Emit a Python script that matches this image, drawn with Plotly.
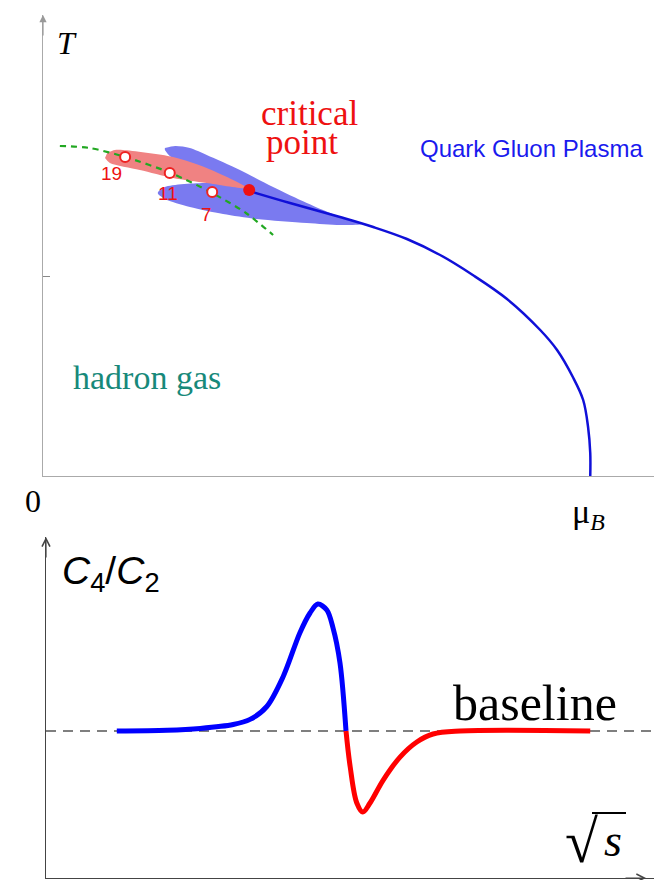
import plotly.graph_objects as go

W, H = 654, 880

# ---------------- Top panel: phase diagram (arbitrary units) ----------------
# phase boundary (first-order line) from critical point to T=0
boundary_mu = [0.379, 0.454, 0.546, 0.607, 0.669, 0.730, 0.790, 0.853, 0.914, 0.945, 0.974, 0.993, 1.002, 1.006, 1.006]
boundary_T = [1.425, 1.365, 1.295, 1.245, 1.185, 1.105, 1.005, 0.885, 0.73, 0.63, 0.495, 0.38, 0.245, 0.115, 0.0]

# blue shaded uncertainty lobes (one outline)
blue_lobe_mu = [0.224, 0.243, 0.270, 0.301, 0.362, 0.423, 0.485, 0.546, 0.586, 0.546, 0.485, 0.393, 0.331,
                0.270, 0.224, 0.211, 0.224, 0.301, 0.362, 0.381, 0.331, 0.270, 0.233, 0.224]
blue_lobe_T = [1.64, 1.65, 1.64, 1.605, 1.53, 1.445, 1.365, 1.295, 1.26, 1.255, 1.265, 1.285, 1.31,
               1.345, 1.385, 1.415, 1.445, 1.465, 1.45, 1.43, 1.47, 1.545, 1.60, 1.63]

# red shaded lobe
red_lobe_mu = [0.118, 0.132, 0.147, 0.239, 0.301, 0.375, 0.301, 0.239, 0.178, 0.123, 0.114]
red_lobe_T = [1.615, 1.63, 1.63, 1.595, 1.54, 1.44, 1.465, 1.49, 1.53, 1.565, 1.59]

# freeze-out line (green dashed)
freeze_mu = [0.031, 0.086, 0.151, 0.235, 0.311, 0.373, 0.423]
freeze_T = [1.65, 1.64, 1.595, 1.515, 1.415, 1.315, 1.205]

# beam-energy points
energy_labels = ["19", "11", "7"]
energy_mu = [0.151, 0.233, 0.311]
energy_T = [1.595, 1.515, 1.42]

# critical point
cp_mu = [0.379]
cp_T = [1.43]

# ---------------- Bottom panel: C4/C2 vs sqrt(s) (arbitrary units) ----------------
c4_blue_x = [1.18, 2.02, 2.57, 3.12, 3.40, 3.68, 3.95, 4.23, 4.40, 4.53, 4.68, 4.78, 4.90, 5.00]
c4_blue_y = [0.0, 0.006, 0.02, 0.05, 0.09, 0.19, 0.419, 0.760, 0.915, 0.984, 0.938, 0.806, 0.527, 0.0]
c4_red_x = [5.00, 5.07, 5.18, 5.28, 5.40, 5.62, 5.90, 6.18, 6.45, 6.90, 9.07]
c4_red_y = [0.0, -0.279, -0.558, -0.628, -0.558, -0.38, -0.202, -0.085, -0.023, 0.0, 0.0]

fig = go.Figure()

# top traces
fig.add_trace(go.Scatter(x=blue_lobe_mu, y=blue_lobe_T, mode="lines", fill="toself",
                         fillcolor="rgb(122,122,240)", line=dict(width=0, shape="spline", smoothing=0.8),
                         hoverinfo="skip", xaxis="x", yaxis="y"))
fig.add_trace(go.Scatter(x=red_lobe_mu, y=red_lobe_T, mode="lines", fill="toself",
                         fillcolor="rgb(240,130,130)", line=dict(width=0, shape="spline", smoothing=0.8),
                         hoverinfo="skip", xaxis="x", yaxis="y"))
fig.add_trace(go.Scatter(x=boundary_mu, y=boundary_T, mode="lines",
                         line=dict(color="#1010d8", width=2.5, shape="spline", smoothing=1.0),
                         hoverinfo="skip", xaxis="x", yaxis="y"))
fig.add_trace(go.Scatter(x=freeze_mu, y=freeze_T, mode="lines",
                         line=dict(color="#22a822", width=2.2, dash="6px,5px", shape="spline", smoothing=0.8),
                         hoverinfo="skip", xaxis="x", yaxis="y"))
fig.add_trace(go.Scatter(x=energy_mu, y=energy_T, mode="markers",
                         marker=dict(size=10, color="white", line=dict(color="#ee2222", width=2)),
                         hoverinfo="skip", xaxis="x", yaxis="y"))
fig.add_trace(go.Scatter(x=cp_mu, y=cp_T, mode="markers",
                         marker=dict(size=12, color="#ee1111"),
                         hoverinfo="skip", xaxis="x", yaxis="y"))

# bottom traces
fig.add_trace(go.Scatter(x=c4_blue_x, y=c4_blue_y, mode="lines",
                         line=dict(color="#0000ff", width=5, shape="spline", smoothing=0.9),
                         hoverinfo="skip", xaxis="x2", yaxis="y2"))
fig.add_trace(go.Scatter(x=c4_red_x, y=c4_red_y, mode="lines",
                         line=dict(color="#ff0000", width=5, shape="spline", smoothing=1.0),
                         hoverinfo="skip", xaxis="x2", yaxis="y2"))


def P(px, py):
    return px / W, 1 - py / H


def label(text, px, py, size, color="black", family="Liberation Serif", xanchor="center"):
    x, y = P(px, py)
    fig.add_annotation(x=x, y=y, xref="paper", yref="paper", text=text, showarrow=False,
                       xanchor=xanchor, yanchor="middle",
                       font=dict(family=family, size=size, color=color))


# top labels
label("<i>T</i>", 67, 43, 32)
label("0", 33, 501, 32)
label("μ<sub><i>B</i></sub>", 588, 514, 34)
label("critical", 309, 114, 35, color="#ee1111")
label("point", 302, 143, 35, color="#ee1111")
label("Quark Gluon Plasma", 531, 148, 24, color="#1a1aee", family="Liberation Sans")
label("hadron gas", 147, 377, 34, color="#17897a")
for t, m, T, dx, dy in zip(energy_labels, energy_mu, energy_T, [-14, -2, -6], [16, 20, 22]):
    fig.add_annotation(x=m, y=T, xref="x", yref="y", text=t, showarrow=False,
                       xshift=dx, yshift=-dy, font=dict(family="Liberation Sans", size=19, color="#ee1111"))

# bottom labels
label("<i>C</i><sub>4</sub>/<i>C</i><sub>2</sub>", 111, 573, 39, family="Liberation Sans")
label("baseline", 535, 703, 50)
label("√", 581, 842, 60)
label("<i>s</i>", 613, 840, 46)

# vinculum over s
fig.add_shape(type="line", xref="paper", yref="paper",
              x0=P(592, 0)[0], x1=P(626, 0)[0], y0=P(0, 813)[1], y1=P(0, 813)[1],
              line=dict(color="black", width=1.8))

# baseline dashed
fig.add_shape(type="line", xref="x2 domain", yref="y2", x0=0, x1=1, y0=0, y1=0,
              line=dict(color="#555555", width=1.5, dash="10px,7px"), layer="below")

# axis arrows
fig.add_annotation(x=0, y=2.305, xref="x", yref="y", ax=0, ay=22, showarrow=True,
                   arrowhead=2, arrowsize=1.2, arrowwidth=1.2, arrowcolor="#999999", text="")
fig.add_annotation(x=0, y=1.504, xref="x2", yref="y2", ax=0, ay=22, showarrow=True,
                   arrowhead=5, arrowsize=1.3, arrowwidth=1.2, arrowcolor="#444444", text="")
fig.add_annotation(x=10.0, y=-1.1395, xref="x2", yref="y2", ax=-22, ay=0, showarrow=True,
                   arrowhead=5, arrowsize=1.3, arrowwidth=1.2, arrowcolor="#444444", text="")

axis_common = dict(showgrid=False, zeroline=False, showticklabels=False, fixedrange=True)

fig.update_layout(
    width=W, height=H, margin=dict(l=0, r=0, t=0, b=0),
    paper_bgcolor="white", plot_bgcolor="white", showlegend=False,
    xaxis=dict(domain=[43 / W, 1], range=[0, 1.1232], showline=True, linecolor="#aaaaaa",
               linewidth=1.3, ticks="", anchor="y", **axis_common),
    yaxis=dict(domain=[(H - 476) / H, (H - 15) / H], range=[0, 2.305], showline=True,
               linecolor="#aaaaaa", linewidth=1.3, ticks="inside", tickvals=[1], ticklen=7,
               tickcolor="#888888", anchor="x", **axis_common),
    xaxis2=dict(domain=[46 / W, 1], range=[0, 10.133], showline=True, linecolor="#444444",
                linewidth=1.3, ticks="", anchor="y2", **axis_common),
    yaxis2=dict(domain=[(H - 878) / H, (H - 537) / H], range=[-1.1395, 1.504], showline=True,
                linecolor="#444444", linewidth=1.3, ticks="", anchor="x2", **axis_common),
)

fig.write_html("out.html")
